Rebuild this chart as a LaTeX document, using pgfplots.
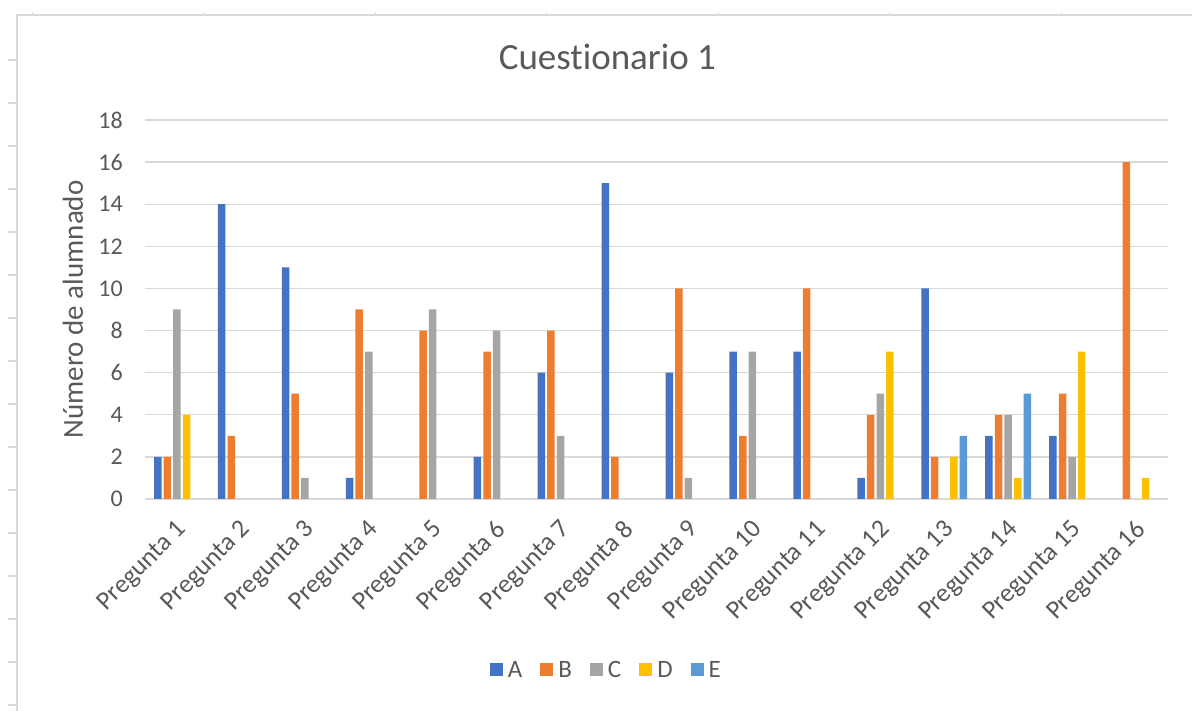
\documentclass[border=0pt]{standalone}
\usepackage{pgfplots}
\pgfplotsset{compat=1.18}
\usepackage{pgfplotstable}
\usepackage{fontspec}
\setmainfont{Carlito}[Ligatures=NoCommon]

\definecolor{txt}{HTML}{595959}
\definecolor{grd}{HTML}{D9D9D9}
\definecolor{serA}{HTML}{4472C4}
\definecolor{serB}{HTML}{ED7D31}
\definecolor{serC}{HTML}{A5A5A5}
\definecolor{serD}{HTML}{FFC000}
\definecolor{serE}{HTML}{5B9BD5}

% square legend key in a given colour
\pgfplotsset{sq/.style={fill=#1, draw=none,
    legend image code/.code={\fill[fill=#1, draw=none] (0bp,-6.5bp) rectangle (13bp,6.5bp); \path (0bp,0bp) -- (16bp,0bp);}}}

% answers per question (x = question index - 1)
\pgfplotstableread{
x  A  B  C  D  E
0  2  2  9  4  0
1  14 3  0  0  0
2  11 5  1  0  0
3  1  9  7  0  0
4  0  8  9  0  0
5  2  7  8  0  0
6  6  8  3  0  0
7  15 2  0  0  0
8  6  10 1  0  0
9  7  3  7  0  0
10 7  10 0  0  0
11 1  4  5  7  0
12 10 2  0  2  3
13 3  4  4  1  5
14 3  5  2  7  0
15 0  16 0  1  0
}\datatable

\begin{document}
\begin{tikzpicture}
\useasboundingbox (0,0) rectangle (1192bp,711bp);
% worksheet cell edges around the chart
\draw[grd, line width=1.6bp] (17bp,0) -- (17bp,696bp) -- (1192bp,696bp);
\foreach \k in {0,...,15} \draw[grd, line width=1.4bp] (8bp,651bp-\k*43bp) -- (17bp,651bp-\k*43bp);
\foreach \k in {0,...,6} \draw[grd, line width=1bp] (32bp+\k*171.5bp,696bp) -- (32bp+\k*171.5bp,699bp);

\begin{axis}[
    at={(145bp,212bp)}, anchor=south west,
    scale only axis,
    width=1023bp, height=379bp,
    ybar=2.1bp, bar width=7.5bp,
    xmin=-0.5, xmax=15.5,
    ymin=0, ymax=18,
    ytick={0,2,...,18},
    xtick={0,...,15},
    xticklabels={Pregunta 1,Pregunta 2,Pregunta 3,Pregunta 4,Pregunta 5,Pregunta 6,Pregunta 7,Pregunta 8,Pregunta 9,Pregunta 10,Pregunta 11,Pregunta 12,Pregunta 13,Pregunta 14,Pregunta 15,Pregunta 16},
    major tick length=0pt,
    ymajorgrids, grid style={grd, line width=1.3bp},
    axis x line*=bottom, axis y line*=left,
    x axis line style={grd, line width=1.3bp},
    y axis line style={draw=none},
    unbounded coords=discard,
    y filter/.expression={y==0 ? nan : y},
    /pgf/number format/assume math mode=true,
    tick label style={font=\fontsize{24bp}{28bp}\selectfont, text=txt},
    yticklabel style={inner sep=0pt, anchor=east, xshift=-22bp},
    xticklabel style={inner sep=0pt, xshift=6bp, yshift=-27bp, rotate=45, anchor=east, font=\fontsize{26bp}{30bp}\selectfont},
    ylabel={Número de alumnado},
    ylabel style={at={(axis description cs:-0.0704,0.5)}, anchor=center, rotate=0, font=\fontsize{29bp}{32bp}\selectfont, text=txt},
    title={Cuestionario 1},
    title style={at={(axis description cs:0.452,1.117)}, anchor=base, font=\fontsize{37bp}{42bp}\selectfont, text=txt},
    legend columns=-1,
    legend style={draw=none, fill=none, at={(0.451,-0.451)}, anchor=center,
        font=\fontsize{25bp}{28bp}\selectfont, text=txt,
        /tikz/every even column/.append style={column sep=16bp}},
]
\addplot[sq=serA] table[x=x, y=A] {\datatable};
\addplot[sq=serB] table[x=x, y=B] {\datatable};
\addplot[sq=serC] table[x=x, y=C] {\datatable};
\addplot[sq=serD] table[x=x, y=D] {\datatable};
\addplot[sq=serE] table[x=x, y=E] {\datatable};
\legend{A,B,C,D,E}
\end{axis}
\end{tikzpicture}
\end{document}
